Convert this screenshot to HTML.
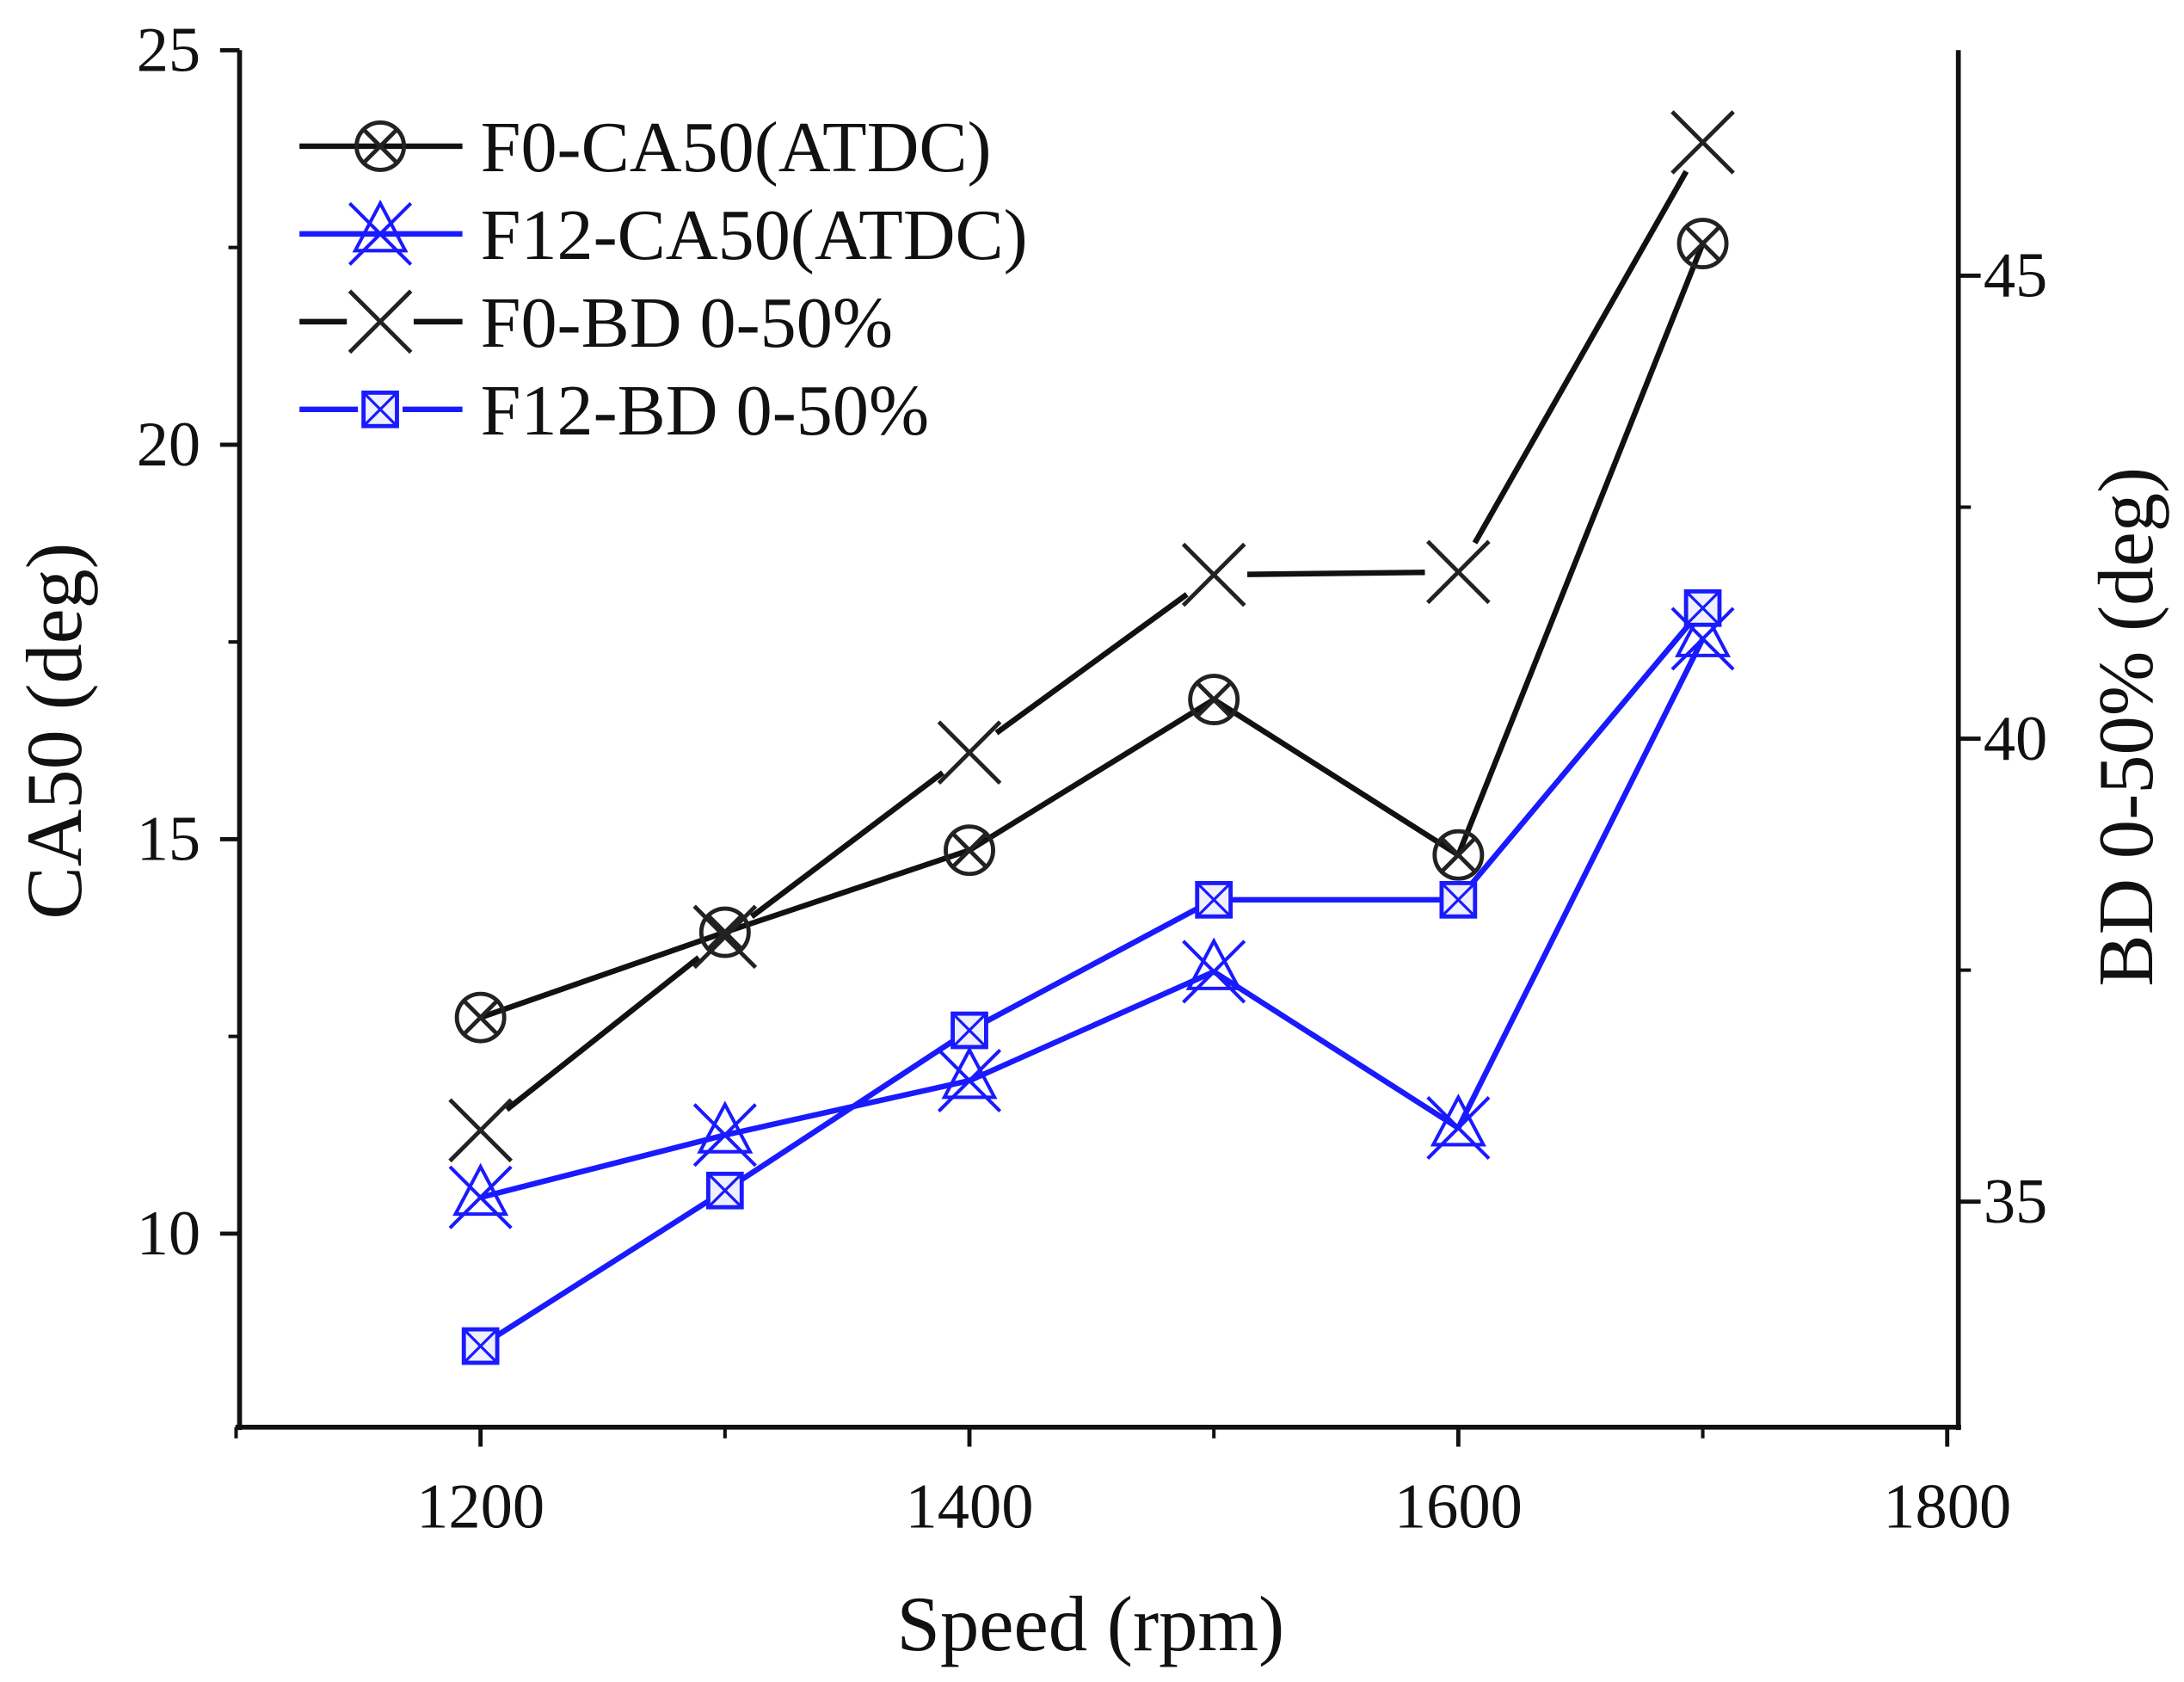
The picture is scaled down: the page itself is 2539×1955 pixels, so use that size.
<!DOCTYPE html>
<html><head><meta charset="utf-8"><style>
html,body{margin:0;padding:0;background:#fff;}
svg{display:block;}
text{font-family:"Liberation Serif",serif;fill:#111;}
</style></head><body>
<svg id="chart" width="2539" height="1955" viewBox="0 0 1568 1208" preserveAspectRatio="none" xmlns="http://www.w3.org/2000/svg">
<g id="axes"></g>
<g id="series"></g>
<g id="legend"></g>
</svg>
<script>
const speeds = [1200, 1300, 1400, 1500, 1600, 1700];
const f0CA50 = [12.74, 13.82, 14.86, 16.77, 14.80, 22.55];
const f12CA50 = [10.46, 11.25, 11.94, 13.32, 11.34, 17.54];
const f0BD = [35.77, 37.86, 39.85, 41.77, 41.80, 46.44];
const f12BD = [33.44, 35.12, 36.85, 38.26, 38.26, 41.41];
const xTicks = [1200, 1400, 1600, 1800];
const xMinor = [1100, 1300, 1500, 1700];
const yLeftTicks = [10, 15, 20, 25];
const yLeftMinor = [12.5, 17.5, 22.5];
const yRightTicks = [35, 40, 45];
const yRightMinor = [37.5, 42.5];
const legendLabels = ["F0-CA50(ATDC)", "F12-CA50(ATDC)", "F0-BD 0-50%", "F12-BD 0-50%"];

const NS = "http://www.w3.org/2000/svg";
const L = 172, R = 1406, T = 36, B = 1025;
const xS = v => 345 + (v - 1200) / 100 * 175.5;
const yL = v => 886 - (v - 10) / 5 * 283.3;
const yR = v => 863 - (v - 35) / 5 * 332.5;
const BLUE = "#1a1aff";

function mk(tag, attrs, parent) {
  const e = document.createElementNS(NS, tag);
  for (const k in attrs) e.setAttribute(k, attrs[k]);
  parent.appendChild(e);
  return e;
}
const axes = document.getElementById('axes');
const series = document.getElementById('series');
const legend = document.getElementById('legend');

let a = mk('line', {x1: L, y1: T, x2: L, y2: B + 2, stroke: '#111', 'stroke-width': 3.5}, axes);
 
a = mk('line', {x1: R, y1: T, x2: R, y2: B + 2, stroke: '#111', 'stroke-width': 3.5}, axes);
 
a = mk('line', {x1: L - 3, y1: B, x2: R + 2, y2: B, stroke: '#111', 'stroke-width': 3.5}, axes);
 

xTicks.forEach(v => {
  const x = xS(v);
  mk('line', {x1: x, y1: B, x2: x, y2: B + 14, stroke: '#111', 'stroke-width': 3}, axes);
  const t = mk('text', {x: x, y: B + 72, 'text-anchor': 'middle', 'font-size': 46}, axes);
  t.textContent = v;
  
  
});
xMinor.forEach(v => { const x = xS(v); mk('line', {x1: x, y1: B, x2: x, y2: B + 8, stroke: '#111', 'stroke-width': 2.5}, axes); });
yLeftTicks.forEach(v => {
  const y = yL(v);
  mk('line', {x1: L - 14, y1: y, x2: L, y2: y, stroke: '#111', 'stroke-width': 3}, axes);
  const t = mk('text', {x: L - 28, y: y + 15, 'text-anchor': 'end', 'font-size': 46}, axes);
  t.textContent = v;
  
  
});
yLeftMinor.forEach(v => { const y = yL(v); mk('line', {x1: L - 8, y1: y, x2: L, y2: y, stroke: '#111', 'stroke-width': 2.5}, axes); });
yRightTicks.forEach(v => {
  const y = yR(v);
  mk('line', {x1: R, y1: y, x2: R + 16, y2: y, stroke: '#111', 'stroke-width': 3}, axes);
  const t = mk('text', {x: R + 18, y: y + 15, 'text-anchor': 'start', 'font-size': 46}, axes);
  t.textContent = v;
  
  
});
yRightMinor.forEach(v => { const y = yR(v); mk('line', {x1: R, y1: y, x2: R + 9, y2: y, stroke: '#111', 'stroke-width': 2.5}, axes); });

let t = mk('text', {x: 783, y: 1185, 'text-anchor': 'middle', 'font-size': 56}, axes);
t.textContent = 'Speed (rpm)';
 
t = mk('text', {x: 0, y: 0, 'text-anchor': 'middle', 'font-size': 57, transform: 'translate(58,525) rotate(-90)'}, axes);
t.textContent = 'CA50 (deg)';
 
t = mk('text', {x: 0, y: 0, 'text-anchor': 'middle', 'font-size': 56, transform: 'translate(1545,522) rotate(-90)'}, axes);
t.textContent = 'BD 0-50% (deg)';
 

function marker(kind, x, y, parent) {
  const g = mk('g', {}, parent);
  if (kind === 'circx') {
    mk('circle', {cx: x, cy: y, r: 17, fill: 'none', stroke: '#222', 'stroke-width': 3}, g);
    mk('path', {d: `M${x-13},${y-13}L${x+13},${y+13}M${x-13},${y+13}L${x+13},${y-13}`, stroke: '#222', 'stroke-width': 3}, g);
  } else if (kind === 'trix') {
    mk('path', {d: `M${x},${y-22}L${x+18},${y+12}L${x-18},${y+12}Z`, fill: 'none', stroke: BLUE, 'stroke-width': 2.5}, g);
    mk('path', {d: `M${x-22},${y-22}L${x+22},${y+22}M${x-22},${y+22}L${x+22},${y-22}`, stroke: BLUE, 'stroke-width': 2.5}, g);
  } else if (kind === 'x') {
    mk('path', {d: `M${x-22},${y-22}L${x+22},${y+22}M${x-22},${y+22}L${x+22},${y-22}`, stroke: '#222', 'stroke-width': 3}, g);
  } else {
    mk('rect', {x: x - 12, y: y - 12, width: 24, height: 24, fill: '#eef0ff', stroke: BLUE, 'stroke-width': 3}, g);
    mk('path', {d: `M${x-12},${y-12}L${x+12},${y+12}M${x-12},${y+12}L${x+12},${y-12}`, stroke: BLUE, 'stroke-width': 2}, g);
  }
  return g;
}

function drawSeries(name, vals, yf, color, kind, gap) {
  const g = mk('g', {}, series);
  
  
  const pts = vals.map((v, i) => [xS(speeds[i]), yf(v)]);
  for (let i = 0; i < pts.length - 1; i++) {
    const [x1, y1] = pts[i], [x2, y2] = pts[i + 1];
    const d = Math.hypot(x2 - x1, y2 - y1), ux = (x2 - x1) / d, uy = (y2 - y1) / d;
    mk('line', {x1: x1 + ux * gap, y1: y1 + uy * gap, x2: x2 - ux * gap, y2: y2 - uy * gap, stroke: color, 'stroke-width': 4}, g);
  }
  pts.forEach(p => {
    const m = marker(kind, p[0], p[1], g);
    
    
  });
}
drawSeries('f0-ca50-series', f0CA50, yL, '#111', 'circx', 0);
drawSeries('f12-ca50-series', f12CA50, yL, BLUE, 'trix', 0);
drawSeries('f0-bd-series', f0BD, yR, '#111', 'x', 24);
drawSeries('f12-bd-series', f12BD, yR, BLUE, 'sq', 13);

const legKinds = ['circx', 'trix', 'x', 'sq'];
const legColors = ['#111', BLUE, '#111', BLUE];
const legGaps = [0, 0, 24, 16];
legendLabels.forEach((lab, i) => {
  const y = 105 + i * 63;
  const g = mk('g', {}, legend);
  
  
  const gap = legGaps[i];
  mk('line', {x1: 215, y1: y, x2: 273 - gap, y2: y, stroke: legColors[i], 'stroke-width': 4}, g);
  mk('line', {x1: 273 + gap, y1: y, x2: 332, y2: y, stroke: legColors[i], 'stroke-width': 4}, g);
  marker(legKinds[i], 273, y, g);
  const tx = mk('text', {x: 345, y: y + 18, 'font-size': 52}, g);
  tx.textContent = lab;
});
</script>
</body></html>
